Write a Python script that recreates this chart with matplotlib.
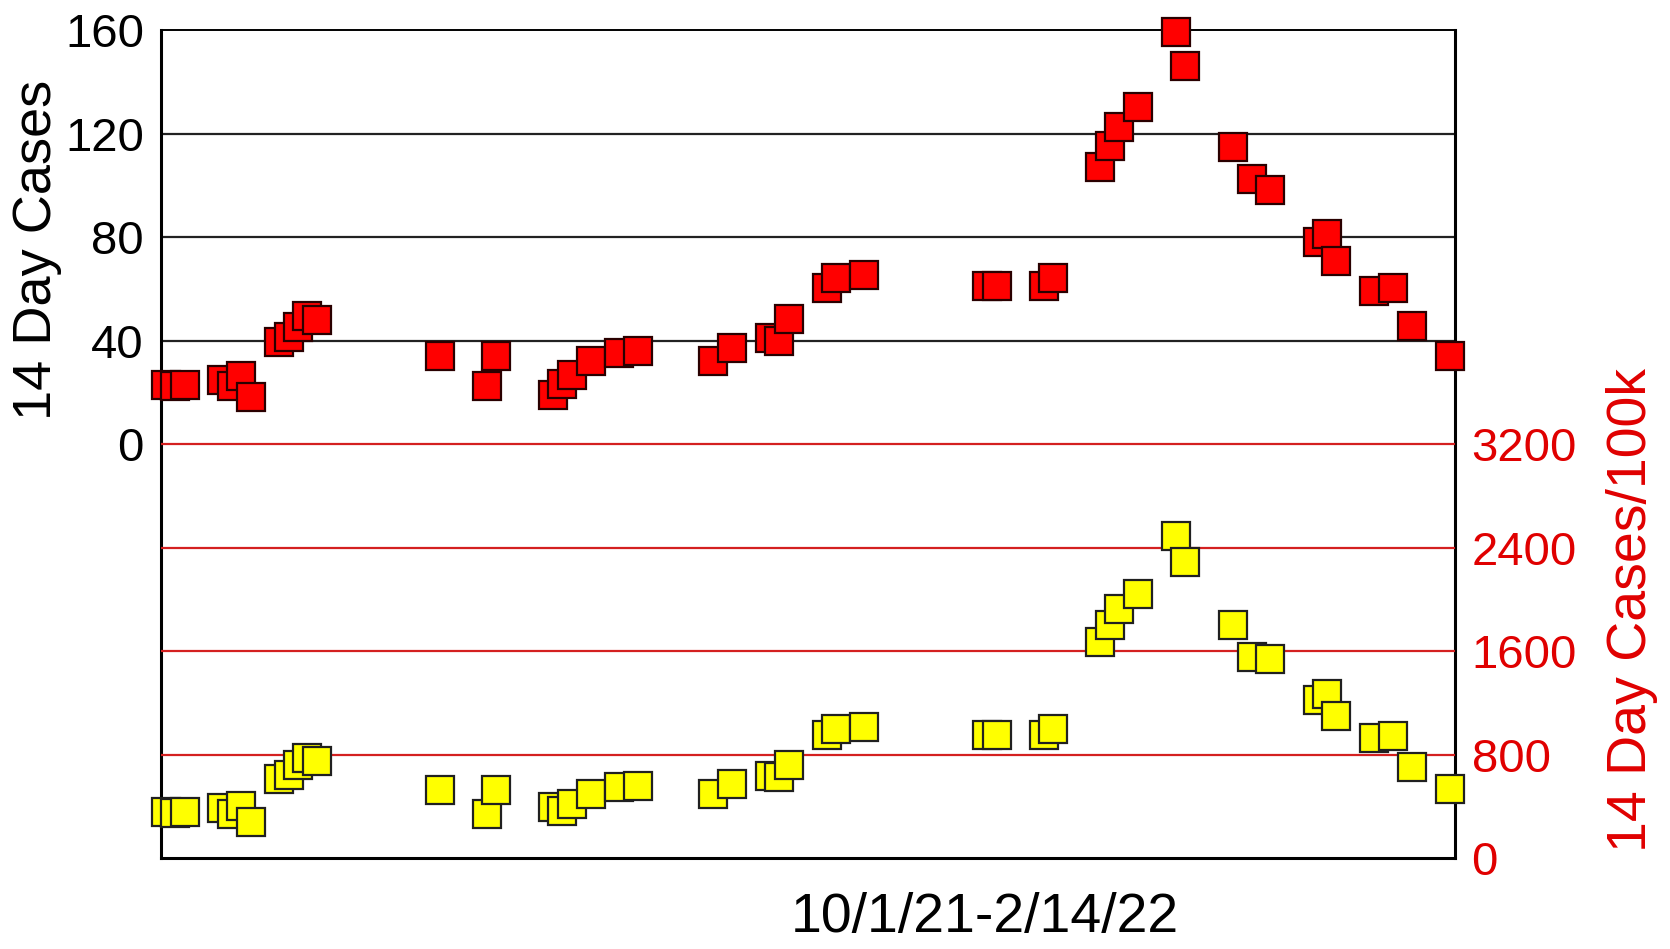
import numpy as np
import pandas as pd
import matplotlib
matplotlib.use("Agg")
import matplotlib.pyplot as plt

plt.rcParams['font.family'] = ['Liberation Sans', 'DejaVu Sans']

# report dates (10/1/21 - 2/14/22)
dates = ["2021-10-01", "2021-10-02", "2021-10-03", "2021-10-07", "2021-10-08",
         "2021-10-09", "2021-10-10", "2021-10-13", "2021-10-14", "2021-10-15",
         "2021-10-16", "2021-10-17", "2021-10-30", "2021-11-04", "2021-11-05",
         "2021-11-11", "2021-11-12", "2021-11-13", "2021-11-15", "2021-11-18",
         "2021-11-20", "2021-11-28", "2021-11-30", "2021-12-04", "2021-12-05",
         "2021-12-06", "2021-12-10", "2021-12-11", "2021-12-14", "2021-12-27",
         "2021-12-28", "2022-01-02", "2022-01-03", "2022-01-08", "2022-01-09",
         "2022-01-10", "2022-01-12", "2022-01-16", "2022-01-17", "2022-01-22",
         "2022-01-24", "2022-01-26", "2022-01-31", "2022-02-01", "2022-02-02",
         "2022-02-06", "2022-02-08", "2022-02-10", "2022-02-14"]

cases_14day = [23.0, 22.6, 23.0, 24.7, 22.6, 26.3, 18.1, 39.5, 41.5, 45.2, 49.4, 48.1,
               34.1, 22.6, 34.1,
               18.9, 23.4, 26.7, 32.1, 35.4, 35.8,
               32.1, 37.0, 41.1, 39.9, 48.5,
               60.5, 64.2, 65.4,
               60.9, 60.9, 60.9, 64.2,
               107.2, 115.0, 122.5, 130.1, 159.3, 146.2,
               114.9, 102.3, 98.0,
               78.2, 81.0, 70.7,
               59.2, 60.5, 45.7, 34.1]

per_100k = [354, 348, 355, 391, 342, 406, 278, 612, 643, 721, 778, 754,
            528, 342, 528,
            399, 368, 419, 497, 551, 561,
            497, 574, 638, 628, 721,
            952, 999, 1015,
            952, 952, 952, 999,
            1673, 1802, 1923, 2039, 2492, 2286,
            1802, 1557, 1539,
            1223, 1269, 1099,
            927, 945, 705, 535]

left_ticks = [0, 40, 80, 120, 160]
right_ticks = [0, 800, 1600, 2400, 3200]

RED = '#e00000'


def main():
    x = pd.to_datetime(dates)

    fig = plt.figure(figsize=(16.7, 9.49), dpi=100)
    ax = fig.add_axes([0.0962, 0.0956, 0.775, 0.8728])
    ax2 = ax.twinx()

    ax.set_ylim(-160, 160)
    ax2.set_ylim(0, 6400)
    pad = pd.Timedelta(hours=13)
    ax.set_xlim(x[0] - pad, x[-1] + pad)

    for v in left_ticks[1:-1]:
        ax.axhline(v, color='#222222', lw=1.6, zorder=1)
    for v in right_ticks[1:]:
        ax2.axhline(v, color='#d42020', lw=1.6, zorder=1)

    ax.plot(x, cases_14day, ls='none', marker='s', ms=19.5, mfc='#ff0000',
            mec='#2a0000', mew=1.6, clip_on=False, zorder=3)
    ax2.plot(x, per_100k, ls='none', marker='s', ms=19.5, mfc='#ffff00',
             mec='#202020', mew=1.6, clip_on=False, zorder=3)

    ax.set_yticks(left_ticks)
    ax.set_yticklabels([str(t) for t in left_ticks])
    ax2.set_yticks(right_ticks)
    ax2.set_yticklabels([str(t) for t in right_ticks])
    ax.tick_params(axis='y', length=0, pad=12, labelsize=34, labelcolor='black')
    ax2.tick_params(axis='y', length=0, pad=12, labelsize=34, labelcolor=RED)
    ax.set_xticks([])

    for side in ['left', 'right', 'bottom']:
        ax.spines[side].set_linewidth(2.2)
        ax.spines[side].set_color('black')
    ax.spines['top'].set_linewidth(1.4)
    for s in ax2.spines.values():
        s.set_visible(False)

    fig.text(0.022, 0.737, '14 Day Cases', rotation=90, ha='center', va='center',
             fontsize=39, color='black')
    fig.text(0.977, 0.357, '14 Day Cases/100k', rotation=90, ha='center',
             va='center', fontsize=40, color=RED)
    fig.text(0.590, 0.033, '10/1/21-2/14/22', ha='center', va='center',
             fontsize=40, color='black')

    fig.savefig('out.png', dpi=100)


if __name__ == '__main__':
    main()
